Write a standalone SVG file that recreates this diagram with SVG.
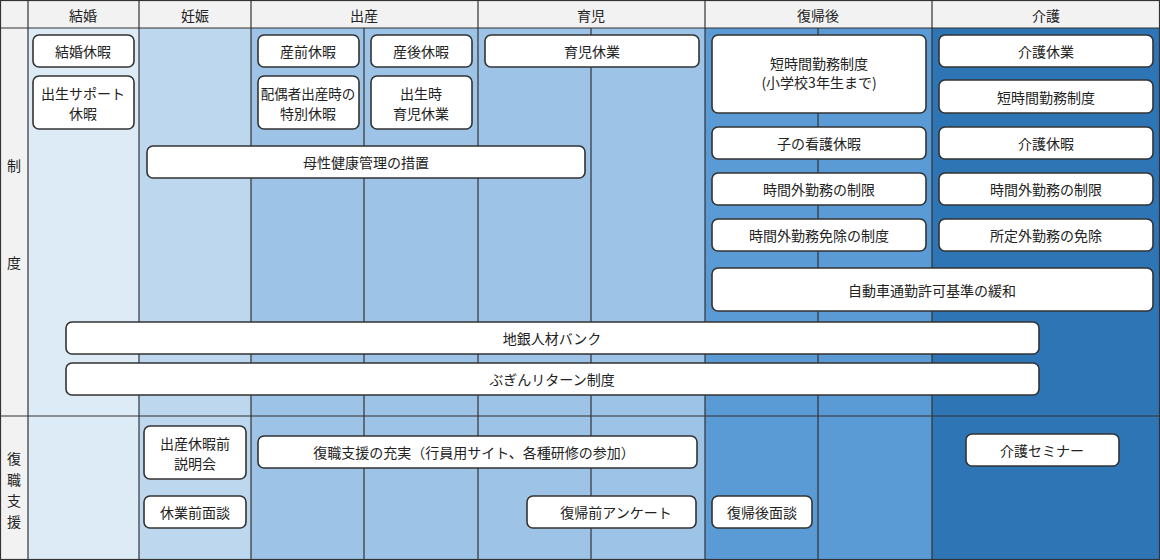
<svg xmlns="http://www.w3.org/2000/svg" width="1160" height="560" viewBox="0 0 1160 560">
<style>
text{font-family:"Noto Sans CJK JP","Noto Sans",sans-serif;font-size:14px;fill:#222;text-anchor:middle;dominant-baseline:central}
.b{fill:#fff;stroke:#333;stroke-width:1.6}
.g{stroke:#333;stroke-width:1.2;fill:none}
</style>
<g id="bg">
<rect x="0" y="0" width="1160" height="560" fill="#f2f2f2"/>
<rect x="28" y="28" width="111" height="532" fill="#ddebf7"/>
<rect x="139" y="28" width="112" height="532" fill="#bdd7ee"/>
<rect x="251" y="28" width="454" height="532" fill="#9dc3e6"/>
<rect x="705" y="28" width="227" height="532" fill="#5b9bd5"/>
<rect x="932" y="28" width="228" height="532" fill="#2e75b6"/>
</g>
<g id="grid" class="g">
<rect x="0.5" y="0.5" width="1159" height="559"/>
<line x1="0" y1="28" x2="1160" y2="28"/>
<line x1="0" y1="416" x2="1160" y2="416"/>
<line x1="28" y1="0" x2="28" y2="560"/>
<line x1="139" y1="0" x2="139" y2="560"/>
<line x1="251" y1="0" x2="251" y2="560"/>
<line x1="478" y1="0" x2="478" y2="560"/>
<line x1="705" y1="0" x2="705" y2="560"/>
<line x1="932" y1="0" x2="932" y2="560"/>
<line x1="364" y1="28" x2="364" y2="560"/>
<line x1="591" y1="28" x2="591" y2="560"/>
<line x1="818" y1="28" x2="818" y2="560"/>
</g>
<g id="headers">
<text x="83" y="15">結婚</text><text x="195" y="15">妊娠</text><text x="364" y="15">出産</text>
<text x="591" y="15">育児</text><text x="818" y="15">復帰後</text><text x="1046" y="15">介護</text>
<text x="14" y="165">制</text><text x="14" y="262">度</text>
<text x="14" y="458">復</text><text x="14" y="479">職</text><text x="14" y="500">支</text><text x="14" y="521">援</text>
</g>
<g id="n1"><rect class="b" x="33" y="35" width="101" height="32" rx="6"/><text x="83" y="51">結婚休暇</text></g>
<g id="n2"><rect class="b" x="33" y="76" width="101" height="53" rx="6"/><text x="83" y="93">出生サポート</text><text x="83" y="113">休暇</text></g>
<g id="n3"><rect class="b" x="258" y="35" width="101" height="32" rx="6"/><text x="308" y="51">産前休暇</text></g>
<g id="n4"><rect class="b" x="371" y="35" width="101" height="32" rx="6"/><text x="421" y="51">産後休暇</text></g>
<g id="n5"><rect class="b" x="258" y="76" width="101" height="53" rx="6"/><text x="308" y="93" style="font-size:13.5px">配偶者出産時の</text><text x="308" y="113">特別休暇</text></g>
<g id="n6"><rect class="b" x="371" y="76" width="101" height="53" rx="6"/><text x="421" y="93">出生時</text><text x="421" y="113">育児休業</text></g>
<g id="n7"><rect class="b" x="485" y="35" width="214" height="32" rx="6"/><text x="592" y="51">育児休業</text></g>
<g id="n8"><rect class="b" x="712" y="35" width="214" height="78" rx="6"/><text x="819" y="63">短時間勤務制度</text><text x="819" y="82">(小学校3年生まで)</text></g>
<g id="n9"><rect class="b" x="939" y="35" width="214" height="32" rx="6"/><text x="1046" y="51">介護休業</text></g>
<g id="n10"><rect class="b" x="939" y="80" width="214" height="33" rx="6"/><text x="1046" y="97">短時間勤務制度</text></g>
<g id="n11"><rect class="b" x="712" y="127" width="214" height="32" rx="6"/><text x="819" y="143">子の看護休暇</text></g>
<g id="n12"><rect class="b" x="939" y="127" width="214" height="32" rx="6"/><text x="1046" y="143">介護休暇</text></g>
<g id="n13"><rect class="b" x="712" y="173" width="214" height="32" rx="6"/><text x="819" y="189">時間外勤務の制限</text></g>
<g id="n14"><rect class="b" x="939" y="173" width="214" height="32" rx="6"/><text x="1046" y="189">時間外勤務の制限</text></g>
<g id="n15"><rect class="b" x="712" y="219" width="214" height="32" rx="6"/><text x="819" y="235">時間外勤務免除の制度</text></g>
<g id="n16"><rect class="b" x="939" y="219" width="214" height="32" rx="6"/><text x="1046" y="235">所定外勤務の免除</text></g>
<g id="n17"><rect class="b" x="712" y="268" width="441" height="43" rx="6"/><text x="932" y="290">自動車通勤許可基準の緩和</text></g>
<g id="n18"><rect class="b" x="147" y="146" width="438" height="32" rx="6"/><text x="366" y="162">母性健康管理の措置</text></g>
<g id="n19"><rect class="b" x="66" y="322" width="973" height="32" rx="6"/><text x="552" y="338">地銀人材バンク</text></g>
<g id="n20"><rect class="b" x="66" y="363" width="973" height="32" rx="6"/><text x="552" y="379">ぶぎんリターン制度</text></g>
<g id="n21"><rect class="b" x="144" y="426" width="102" height="53" rx="6"/><text x="195" y="443">出産休暇前</text><text x="195" y="463">説明会</text></g>
<g id="n22"><rect class="b" x="144" y="496" width="102" height="32" rx="6"/><text x="195" y="512">休業前面談</text></g>
<g id="n23"><rect class="b" x="258" y="436" width="439" height="32" rx="6"/><text x="474" y="452">復職支援の充実（行員用サイト、各種研修の参加）</text></g>
<g id="n24"><rect class="b" x="527" y="496" width="169" height="32" rx="6"/><text x="616" y="512">復帰前アンケート</text></g>
<g id="n25"><rect class="b" x="712" y="496" width="100" height="32" rx="6"/><text x="762" y="512">復帰後面談</text></g>
<g id="n26"><rect class="b" x="966" y="434" width="153" height="32" rx="6"/><text x="1042" y="450">介護セミナー</text></g>
<g id="connectors"></g>
</svg>
